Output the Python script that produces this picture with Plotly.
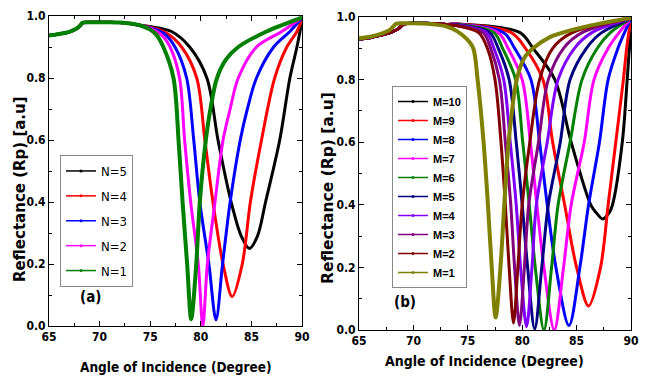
import plotly.graph_objects as go

# ---------------- Panel (a) data ----------------
PREFIX_A_ANGLE = [65, 66, 67, 67.7, 68.05, 68.3, 69, 70, 71, 72, 73, 74]
PREFIX_A_R = [0.937, 0.942, 0.949, 0.959, 0.968, 0.978, 0.98, 0.98, 0.98, 0.979, 0.976, 0.97]

N5_ANGLE = [75, 77.1, 78.9, 80.6, 81.7, 83.0, 84.0, 84.8, 85.6, 86.4, 87.8, 88.8, 89.5, 89.8, 90]
N5_R = [0.966, 0.95, 0.9, 0.8, 0.6, 0.4, 0.29, 0.25, 0.29, 0.4, 0.6, 0.8, 0.9, 0.95, 0.99]

N4_ANGLE = [75, 76.6, 78.1, 79.6, 80.4, 81.2, 82.2, 83.1, 84.1, 84.9, 86.0, 87.3, 88.5, 89.5, 90]
N4_R = [0.964, 0.945, 0.9, 0.8, 0.6, 0.4, 0.2, 0.095, 0.2, 0.4, 0.6, 0.8, 0.9, 0.95, 0.99]

N3_ANGLE = [75, 76.3, 77.45, 78.6, 79.3, 79.9, 80.8, 81.5, 82.15, 82.9, 83.9, 84.6, 85.5, 87.2, 88.8, 90]
N3_R = [0.962, 0.945, 0.9, 0.8, 0.6, 0.4, 0.2, 0.02, 0.2, 0.4, 0.6, 0.7, 0.8, 0.9, 0.95, 0.995]

N2_ANGLE = [75, 76.0, 76.96, 77.9, 78.4, 79.0, 79.75, 80.2, 80.65, 81.4, 82.2, 82.9, 83.7, 85.5, 88.0, 90]
N2_R = [0.96, 0.942, 0.9, 0.8, 0.6, 0.4, 0.2, 0.0, 0.2, 0.4, 0.6, 0.7, 0.8, 0.9, 0.95, 0.995]

N1_ANGLE = [75, 75.6, 76.3, 77.3, 77.8, 78.2, 78.65, 79.05, 79.55, 79.9, 80.5, 80.95, 81.6, 82.5, 83.7, 86.5, 90]
N1_R = [0.956, 0.94, 0.9, 0.8, 0.6, 0.4, 0.2, 0.022, 0.2, 0.4, 0.6, 0.7, 0.8, 0.86, 0.9, 0.95, 0.995]

LABELS_A = ["N=5", "N=4", "N=3", "N=2", "N=1"]
COLORS_A = ["#000000", "#FF0000", "#0000FF", "#FF00FF", "#008000"]

# ---------------- Panel (b) data ----------------
PREFIX_B_ANGLE = [65, 66, 67, 68, 68.6, 68.9, 69.2, 70, 71, 72, 73]
PREFIX_B_R = [0.93, 0.934, 0.942, 0.952, 0.962, 0.972, 0.978, 0.98, 0.98, 0.979, 0.976]

M1_PREFIX_ANGLE = [65, 66, 67, 67.8, 68.1, 68.4, 69, 70, 71, 72]
M1_PREFIX_R = [0.932, 0.937, 0.946, 0.958, 0.968, 0.978, 0.98, 0.98, 0.979, 0.976]

M10_ANGLE = [74, 79.8, 81.0, 83.0, 84.5, 86.3, 86.8, 87.4, 88.0, 88.3, 89.2, 89.65, 89.85, 90]
M10_R = [0.978, 0.95, 0.9, 0.8, 0.6, 0.4, 0.375, 0.355, 0.375, 0.4, 0.6, 0.8, 0.9, 1.0]

M9_ANGLE = [74, 79.0, 80.3, 81.9, 82.8, 83.9, 85.0, 86.1, 87.2, 87.9, 88.6, 89.3, 89.6, 89.8, 90]
M9_R = [0.978, 0.95, 0.9, 0.8, 0.6, 0.4, 0.2, 0.077, 0.2, 0.4, 0.6, 0.8, 0.9, 0.95, 0.99]

M8_ANGLE = [74, 78.3, 79.3, 80.8, 81.6, 82.3, 83.1, 84.3, 85.3, 86.1, 87.1, 87.9, 88.8, 89.4, 90]
M8_R = [0.977, 0.95, 0.9, 0.8, 0.6, 0.4, 0.2, 0.014, 0.2, 0.4, 0.6, 0.8, 0.9, 0.95, 0.995]

M7_ANGLE = [74, 77.8, 78.7, 80.0, 80.75, 81.35, 82.0, 82.95, 83.8, 84.5, 85.7, 86.6, 87.9, 88.9, 90]
M7_R = [0.977, 0.95, 0.9, 0.8, 0.6, 0.4, 0.2, 0.0, 0.2, 0.4, 0.6, 0.8, 0.9, 0.95, 0.995]

M6_ANGLE = [74, 77.4, 78.2, 79.4, 80.05, 80.65, 81.2, 82.0, 82.7, 83.3, 84.4, 85.5, 86.9, 88.1, 90]
M6_R = [0.976, 0.95, 0.9, 0.8, 0.6, 0.4, 0.2, 0.0, 0.2, 0.4, 0.6, 0.8, 0.9, 0.95, 0.995]

M5_ANGLE = [74, 77.0, 77.8, 78.8, 79.45, 80.0, 80.5, 81.15, 81.8, 82.4, 83.5, 84.4, 85.9, 87.3, 90]
M5_R = [0.975, 0.95, 0.9, 0.8, 0.6, 0.4, 0.2, 0.003, 0.2, 0.4, 0.6, 0.8, 0.9, 0.95, 0.995]

M4_ANGLE = [74, 76.7, 77.4, 78.3, 78.9, 79.45, 79.85, 80.4, 80.9, 81.3, 82.3, 83.3, 84.8, 86.4, 90]
M4_R = [0.974, 0.95, 0.9, 0.8, 0.6, 0.4, 0.2, 0.01, 0.2, 0.4, 0.6, 0.8, 0.9, 0.95, 0.995]

M3_ANGLE = [74, 76.4, 77.1, 77.9, 78.45, 78.95, 79.3, 79.75, 80.2, 80.6, 81.5, 82.4, 83.8, 85.5, 90]
M3_R = [0.973, 0.95, 0.9, 0.8, 0.6, 0.4, 0.2, 0.015, 0.2, 0.4, 0.6, 0.8, 0.9, 0.95, 0.995]

M2_ANGLE = [74, 76.0, 76.8, 77.5, 78.05, 78.45, 78.8, 79.2, 79.6, 80.0, 80.7, 81.6, 82.8, 84.6, 90]
M2_R = [0.972, 0.95, 0.9, 0.8, 0.6, 0.4, 0.2, 0.022, 0.2, 0.4, 0.6, 0.8, 0.9, 0.95, 0.995]

M1_ANGLE = [73, 74, 74.9, 75.5, 75.9, 76.45, 76.85, 77.2, 77.56, 78.0, 78.35, 78.75, 79.5, 80.2, 81.0, 82.5, 84.5, 87, 90]
M1_R = [0.97, 0.955, 0.93, 0.9, 0.8, 0.6, 0.4, 0.2, 0.04, 0.2, 0.4, 0.6, 0.8, 0.87, 0.9, 0.935, 0.958, 0.978, 0.997]

LABELS_B = ["M=10", "M=9", "M=8", "M=7", "M=6", "M=5", "M=4", "M=3", "M=2", "M=1"]
COLORS_B = ["#000000", "#FF0000", "#0000FF", "#FF00FF", "#008000",
            "#000080", "#8000FF", "#800080", "#800000", "#808000"]

X_TICKS = [65, 70, 75, 80, 85, 90]
Y_TICKS = [0.0, 0.2, 0.4, 0.6, 0.8, 1.0]

NARROW = "DejaVu Sans Condensed, Liberation Sans Narrow, sans-serif"
WIDE = "DejaVu Sans, Liberation Sans, sans-serif"
ARIAL = "Liberation Sans, Arial, sans-serif"

fig = go.Figure()

curves_a = [(N5_ANGLE, N5_R), (N4_ANGLE, N4_R), (N3_ANGLE, N3_R), (N2_ANGLE, N2_R), (N1_ANGLE, N1_R)]
for i, (ax, ar) in enumerate(curves_a):
    w = 4 if LABELS_A[i] == "N=1" else 3
    fig.add_trace(go.Scatter(x=PREFIX_A_ANGLE + ax, y=PREFIX_A_R + ar, mode="lines",
                             line=dict(color=COLORS_A[i], width=w, shape="spline", smoothing=0.9),
                             showlegend=False, xaxis="x", yaxis="y", hoverinfo="skip"))
for i, lab in enumerate(LABELS_A):
    fig.add_trace(go.Scatter(x=[None], y=[None], mode="lines+markers", name=lab,
                             line=dict(color=COLORS_A[i], width=1.5),
                             marker=dict(color=COLORS_A[i], size=3),
                             legend="legend", legendgroup="a%d" % i, xaxis="x", yaxis="y"))

curves_b = [(M10_ANGLE, M10_R), (M9_ANGLE, M9_R), (M8_ANGLE, M8_R), (M7_ANGLE, M7_R),
            (M6_ANGLE, M6_R), (M5_ANGLE, M5_R), (M4_ANGLE, M4_R), (M3_ANGLE, M3_R),
            (M2_ANGLE, M2_R), (M1_ANGLE, M1_R)]
for i, (bx, br) in enumerate(curves_b):
    if LABELS_B[i] == "M=1":
        xs, ys, w = M1_PREFIX_ANGLE + bx, M1_PREFIX_R + br, 4
    else:
        xs, ys, w = PREFIX_B_ANGLE + bx, PREFIX_B_R + br, 3
    fig.add_trace(go.Scatter(x=xs, y=ys, mode="lines",
                             line=dict(color=COLORS_B[i], width=w, shape="spline", smoothing=0.9),
                             showlegend=False, xaxis="x2", yaxis="y2", hoverinfo="skip"))
for i, lab in enumerate(LABELS_B):
    fig.add_trace(go.Scatter(x=[None], y=[None], mode="lines+markers", name=lab,
                             line=dict(color=COLORS_B[i], width=1.5),
                             marker=dict(color=COLORS_B[i], size=3),
                             legend="legend2", legendgroup="b%d" % i, xaxis="x2", yaxis="y2"))

W, H = 645, 381

def xaxis(domain, anchor):
    return dict(domain=domain, anchor=anchor, range=[65, 90], tickvals=X_TICKS,
                ticks="inside", ticklen=5, tickcolor="black", mirror="allticks",
                showline=True, linecolor="black", linewidth=1, showgrid=False, zeroline=False,
                minor=dict(ticks="inside", ticklen=3, dtick=2.5, tickcolor="black"),
                tickfont=dict(family=NARROW, size=12, color="black", weight="bold"))

def yaxis(domain, anchor):
    return dict(domain=domain, anchor=anchor, range=[0, 1.0], tickvals=Y_TICKS,
                tickformat=".1f",
                ticks="inside", ticklen=5, tickcolor="black", mirror="allticks",
                showline=True, linecolor="black", linewidth=1, showgrid=False, zeroline=False,
                minor=dict(ticks="inside", ticklen=3, dtick=0.1, tickcolor="black"),
                tickfont=dict(family=NARROW, size=12, color="black", weight="bold"))

fig.update_layout(
    width=W, height=H, margin=dict(l=0, r=0, t=0, b=0, autoexpand=False),
    paper_bgcolor="white", plot_bgcolor="white",
    xaxis=xaxis([49 / W, 302 / W], "y"),
    yaxis=yaxis([1 - 326 / H, 1 - 16 / H], "x"),
    xaxis2=xaxis([359 / W, 631 / W], "y2"),
    yaxis2=yaxis([1 - 330 / H, 1 - 17 / H], "x2"),
    legend=dict(x=60 / W, y=1 - 155 / H, xanchor="left", yanchor="top",
                bordercolor="#888888", borderwidth=1, bgcolor="white",
                font=dict(family=NARROW, size=13, color="black"),
                tracegroupgap=5, itemwidth=30),
    legend2=dict(x=392 / W, y=1 - 86 / H, xanchor="left", yanchor="top",
                 bordercolor="#888888", borderwidth=1, bgcolor="white",
                 font=dict(family=ARIAL, size=11, color="black", weight="bold"),
                 tracegroupgap=0, itemwidth=30),
    showlegend=True,
)

def ann(text, x, y, size, family, angle=0):
    return dict(text=text, x=x / W, y=1 - y / H, xref="paper", yref="paper",
                xanchor="center", yanchor="middle", showarrow=False, textangle=angle,
                font=dict(family=family, size=size, color="black", weight="bold"))

annotations = [
    ann("Angle of Incidence (Degree)", 176, 367, 13.5, NARROW),
    ann("Angle of Incidence (Degree)", 484, 361, 14, NARROW),
    ann("Reflectance (Rp) [a.u]", 20, 189, 15, WIDE, -90),
    ann("Reflectance (Rp) [a.u]", 328, 188, 15.5, WIDE, -90),
    ann("(a)", 90, 297, 15, NARROW),
    ann("(b)", 405, 302, 15, NARROW),
]
fig.update_layout(annotations=annotations)

fig.write_html("out.html", config={"displayModeBar": False},
               post_script="document.body.style.margin='0';document.body.style.overflow='hidden';")
